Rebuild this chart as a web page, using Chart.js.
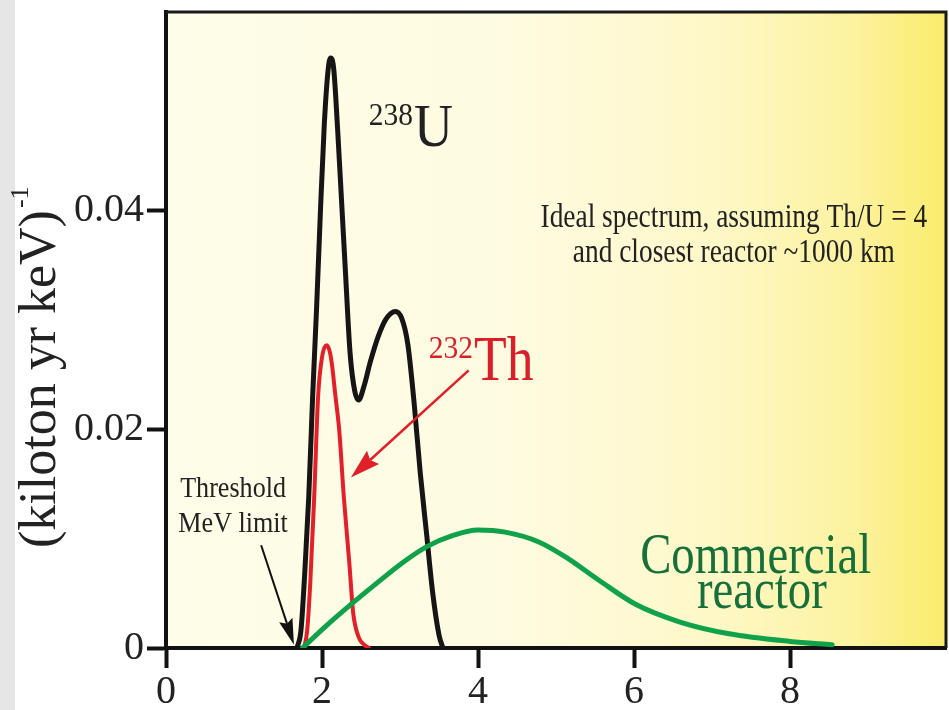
<!DOCTYPE html>
<html>
<head>
<meta charset="utf-8">
<script src="https://cdn.jsdelivr.net/npm/chart.js@4.4.1/dist/chart.umd.min.js"></script>
<style>
  html, body { margin: 0; padding: 0; background: #fff; }
  #wrap { width: 949px; height: 710px; position: relative; }
</style>
</head>
<body>
<div id="wrap"><canvas id="spectrum"></canvas></div>
<script>
// Energy (MeV) and rate ((kiloton yr keV)^-1) for each spectrum
const uEnergy = [1.68, 1.73, 1.78, 1.83, 1.88, 1.93, 1.98, 2.03, 2.08, 2.11, 2.15, 2.20, 2.25, 2.30, 2.36, 2.42, 2.47, 2.54, 2.62, 2.72, 2.82, 2.94, 3.02, 3.10, 3.18, 3.26, 3.34, 3.42, 3.50, 3.55];
const uRate   = [0, 0.0016, 0.0070, 0.0138, 0.0230, 0.0310, 0.0400, 0.0480, 0.0530, 0.0540, 0.0530, 0.0475, 0.0410, 0.0345, 0.0270, 0.0235, 0.0227, 0.0240, 0.0262, 0.0285, 0.0301, 0.0308, 0.0302, 0.0278, 0.0225, 0.0160, 0.0105, 0.0050, 0.0012, 0];

const thEnergy = [1.77, 1.81, 1.85, 1.90, 1.95, 2.00, 2.06, 2.10, 2.13, 2.17, 2.22, 2.28, 2.35, 2.40, 2.47, 2.54, 2.60];
const thRate   = [0, 0.0016, 0.0060, 0.0138, 0.0230, 0.0266, 0.0277, 0.0271, 0.0258, 0.0232, 0.0200, 0.0138, 0.0078, 0.0032, 0.0010, 0.0003, 0];

const reactorEnergy = [1.75, 2.05, 2.39, 2.73, 3.05, 3.35, 3.68, 4.00, 4.35, 4.78, 5.15, 5.55, 6.02, 6.58, 7.22, 8.00, 8.54];
const reactorRate   = [0, 0.0020, 0.0041, 0.0061, 0.0079, 0.0093, 0.0103, 0.0108, 0.0106, 0.0097, 0.0082, 0.0062, 0.0040, 0.0024, 0.0013, 0.0006, 0.0003];

const xTicks = [0, 2, 4, 6, 8];
const yTicks = [0, 0.02, 0.04];
const yTickLabels = ['0', '0.02', '0.04'];

const SERIF = '"Liberation Serif", "Times New Roman", serif';

const toPoints = (xs, ys) => xs.map((x, i) => ({ x, y: ys[i] }));

// cream-to-yellow plot background and the grey strip at the far left
const backdrop = {
  id: 'backdrop',
  beforeDraw(chart) {
    const { ctx, chartArea: a, width, height } = chart;
    ctx.save();
    ctx.fillStyle = '#ffffff';
    ctx.fillRect(0, 0, width, height);
    ctx.fillStyle = '#e6e6e6';
    ctx.fillRect(0, 0, 15, height);
    const g = ctx.createLinearGradient(a.left, 0, a.right, 0);
    g.addColorStop(0, '#fefde9');
    g.addColorStop(0.45, '#fefbe0');
    g.addColorStop(0.7, '#fef8c8');
    g.addColorStop(0.88, '#fdf2a0');
    g.addColorStop(1, '#f9ec6c');
    ctx.fillStyle = g;
    ctx.fillRect(a.left, a.top, a.right - a.left, a.bottom - a.top);
    ctx.restore();
  },
  afterDraw(chart) {
    const { ctx, chartArea: a } = chart;
    ctx.save();
    ctx.strokeStyle = '#1a1a1a';
    ctx.lineWidth = 3;
    ctx.beginPath();
    ctx.moveTo(a.left, a.top);
    ctx.lineTo(a.right, a.top);
    ctx.lineTo(a.right, a.bottom);
    ctx.stroke();
    ctx.restore();
  }
};

function arrow(ctx, x0, y0, x1, y1, color, lw, headLen, headW) {
  const ang = Math.atan2(y1 - y0, x1 - x0);
  const bx = x1 - headLen * Math.cos(ang);
  const by = y1 - headLen * Math.sin(ang);
  ctx.strokeStyle = color;
  ctx.fillStyle = color;
  ctx.lineWidth = lw;
  ctx.beginPath();
  ctx.moveTo(x0, y0);
  ctx.lineTo(bx, by);
  ctx.stroke();
  const nx = -Math.sin(ang), ny = Math.cos(ang);
  ctx.beginPath();
  ctx.moveTo(x1, y1);
  ctx.lineTo(bx + nx * headW / 2 - Math.cos(ang) * 4, by + ny * headW / 2 - Math.sin(ang) * 4);
  ctx.lineTo(bx, by);
  ctx.lineTo(bx - nx * headW / 2 - Math.cos(ang) * 4, by - ny * headW / 2 - Math.sin(ang) * 4);
  ctx.closePath();
  ctx.fill();
}

// draws text squeezed horizontally, like a condensed face
function squeezed(ctx, text, x, y, size, sx, color, align) {
  ctx.save();
  ctx.font = size + 'px ' + SERIF;
  ctx.fillStyle = color;
  ctx.textBaseline = 'alphabetic';
  const w = ctx.measureText(text).width * sx;
  let left = x;
  if (align === 'center') left = x - w / 2;
  ctx.translate(left, y);
  ctx.scale(sx, 1);
  ctx.textAlign = 'left';
  ctx.fillText(text, 0, 0);
  ctx.restore();
  return w;
}

const labels = {
  id: 'labels',
  afterDatasetsDraw(chart) {
    const { ctx } = chart;
    const xs = chart.scales.x, ys = chart.scales.y;
    const px = v => xs.getPixelForValue(v);
    const py = v => ys.getPixelForValue(v);
    ctx.save();

    // axis title, rotated
    ctx.save();
    ctx.translate(55, 548);
    ctx.rotate(-Math.PI / 2);
    ctx.font = '52px ' + SERIF;
    ctx.fillStyle = '#222';
    ctx.textAlign = 'left';
    ctx.textBaseline = 'alphabetic';
    ctx.fillText('(kiloton yr keV)', 0, 0);
    const tw = ctx.measureText('(kiloton yr keV)').width;
    ctx.font = '26px ' + SERIF;
    ctx.fillText('-1', tw + 2, -27);
    ctx.restore();

    // 238U
    let w = squeezed(ctx, '238', px(2.6), py(0.0479), 31, 0.95, '#222', 'left');
    squeezed(ctx, 'U', px(2.6) + w + 1, py(0.0459), 62, 0.87, '#222', 'left');

    // 232Th
    w = squeezed(ctx, '232', px(3.37), py(0.0265), 32, 0.92, '#d9202a', 'left');
    squeezed(ctx, 'Th', px(3.37) + w + 1, py(0.0245), 63, 0.85, '#d9202a', 'left');
    arrow(ctx, px(3.88), py(0.0254), px(2.37), py(0.0156), '#e02028', 2.5, 26, 18);

    // threshold note
    squeezed(ctx, 'Threshold', px(0.86), py(0.0138), 29, 0.9, '#222', 'center');
    squeezed(ctx, 'MeV limit', px(0.86), py(0.0106), 29, 0.9, '#222', 'center');
    arrow(ctx, px(1.22), py(0.0094), px(1.64), py(0.0003), '#111', 2, 22, 14);

    // reactor label
    squeezed(ctx, 'Commercial', px(7.56), py(0.0069), 57, 0.82, '#17703a', 'center');
    squeezed(ctx, 'reactor', px(7.64), py(0.0037), 57, 0.82, '#17703a', 'center');

    // spectrum note
    squeezed(ctx, 'Ideal spectrum, assuming Th/U = 4', px(7.28), py(0.0385), 33, 0.83, '#222', 'center');
    squeezed(ctx, 'and closest reactor ~1000 km', px(7.28), py(0.0353), 33, 0.83, '#222', 'center');

    ctx.restore();
  }
};

const lineStyle = {
  showLine: true,
  pointRadius: 0,
  fill: false,
  cubicInterpolationMode: 'monotone',
  borderCapStyle: 'round',
  borderJoinStyle: 'round'
};

const noPad = s => {
  s.paddingTop = 0;
  s.paddingBottom = 0;
  s.paddingLeft = 0;
  s.paddingRight = 0;
};

new Chart(document.getElementById('spectrum'), {
  type: 'scatter',
  data: {
    datasets: [
      { ...lineStyle, label: 'Commercial reactor', data: toPoints(reactorEnergy, reactorRate), borderColor: '#10a24a', borderWidth: 5 },
      { ...lineStyle, label: '238U', data: toPoints(uEnergy, uRate), borderColor: '#151515', borderWidth: 5 },
      { ...lineStyle, label: '232Th', data: toPoints(thEnergy, thRate), borderColor: '#e3202a', borderWidth: 4 }
    ]
  },
  options: {
    responsive: true,
    maintainAspectRatio: false,
    animation: false,
    layout: { padding: { left: 0, top: 12, right: 3, bottom: 0 } },
    plugins: {
      legend: { display: false },
      tooltip: { enabled: false }
    },
    scales: {
      x: {
        type: 'linear',
        min: 0,
        max: 10,
        afterBuildTicks: s => { s.ticks = xTicks.map(v => ({ value: v })); },
        afterFit: s => { s.height = 62; noPad(s); },
        ticks: {
          font: { family: SERIF, size: 40 },
          color: '#222',
          padding: 0,
          maxRotation: 0
        },
        grid: { drawOnChartArea: false, tickLength: 20, tickWidth: 4, tickColor: '#111' },
        border: { color: '#111', width: 4 }
      },
      y: {
        min: 0,
        max: 0.0582,
        afterBuildTicks: s => { s.ticks = yTicks.map(v => ({ value: v })); },
        afterFit: s => { s.width = 166; noPad(s); },
        ticks: {
          font: { family: SERIF, size: 40 },
          color: '#222',
          padding: 3,
          callback: v => yTickLabels[yTicks.indexOf(v)]
        },
        grid: { drawOnChartArea: false, tickLength: 19, tickWidth: 4, tickColor: '#111' },
        border: { color: '#111', width: 4 }
      }
    }
  },
  plugins: [backdrop, labels]
});
</script>
</body>
</html>
